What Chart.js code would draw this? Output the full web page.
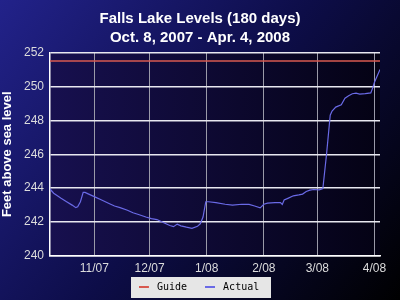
<!DOCTYPE html>
<html>
<head>
<meta charset="utf-8">
<script src="https://cdn.jsdelivr.net/npm/chart.js@4.4.0/dist/chart.umd.min.js"></script>
<style>
  html, body { margin: 0; padding: 0; background: #000; }
</style>
</head>
<body>
<canvas id="c" width="400" height="300"></canvas>
<script>
// Days since Oct. 8, 2007 and lake level (ft)
const days = [0, 2, 4, 6, 9, 12, 14, 15, 16.5, 18, 19, 21, 24, 28, 32, 35, 38, 42, 45, 48,
  52, 55, 58, 62, 65, 67, 69, 71, 74, 77, 80, 81.5, 83, 84.5, 86, 90, 95, 99, 104, 108,
  111, 114, 116, 118, 122, 125, 126, 127, 129, 132, 135, 137, 139, 141, 143, 146, 148, 150, 152, 153,
  155, 158, 160, 162, 164, 166, 168, 171, 174, 175, 176, 177, 179];
const levels = [243.95, 243.7, 243.55, 243.4, 243.2, 243.0, 242.85, 242.9, 243.2, 243.75, 243.75, 243.65, 243.5, 243.3, 243.1, 242.95, 242.85, 242.7, 242.55, 242.45,
  242.3, 242.2, 242.15, 241.95, 241.8, 241.73, 241.88, 241.78, 241.7, 241.63, 241.75, 241.9, 242.3, 243.2, 243.2, 243.15, 243.05, 243.0, 243.05, 243.04,
  242.95, 242.84, 243.05, 243.12, 243.15, 243.15, 243.04, 243.3, 243.4, 243.55, 243.6, 243.65, 243.8, 243.88, 243.92, 243.9, 243.98, 246.0, 248.3, 248.55,
  248.78, 248.92, 249.3, 249.45, 249.57, 249.6, 249.55, 249.57, 249.62, 249.9, 250.25, 250.5, 251.0];
const guideLevel = 251.5;
const guideDays = [0, 179];
const monthTickDays = [24, 54, 85, 116, 145, 176];
const monthTickLabels = ['11/07', '12/07', '1/08', '2/08', '3/08', '4/08'];
const titleLines = ['Falls Lake Levels (180 days)', 'Oct. 8, 2007 - Apr. 4, 2008'];

const guideColor = '#d85a50';
const actualColor = '#6a6ae6';

// short dash used as the legend marker
function legendMark(color) {
  const c = document.createElement('canvas');
  c.width = 15;
  c.height = 2;
  const g = c.getContext('2d');
  g.fillStyle = color;
  g.fillRect(0, 0, 10, 2);
  return c;
}

const backdrop = {
  id: 'backdrop',
  afterLayout(chart) {
    // let the month labels show below the (thin) x axis box
    chart.scales.x.bottom = chart.height;
  },
  beforeDraw(chart) {
    const { ctx, width, height, chartArea: a } = chart;
    ctx.save();
    let g = ctx.createLinearGradient(0, 0, width, height);
    g.addColorStop(0, '#22228a');
    g.addColorStop(0.5, '#0d0d48');
    g.addColorStop(1, '#000000');
    ctx.fillStyle = g;
    ctx.fillRect(0, 0, width, height);
    g = ctx.createLinearGradient(a.left, 0, a.right, 0);
    g.addColorStop(0, '#17104f');
    g.addColorStop(1, '#040214');
    ctx.fillStyle = g;
    ctx.fillRect(a.left, a.top, a.right - a.left, a.bottom - a.top);
    // light box behind legend
    const hb = chart.legend.legendHitBoxes;
    if (hb && hb.length) {
      const last = hb[hb.length - 1];
      const l = hb[0].left - 10;
      const r = last.left + last.width + 12;
      const t = hb[0].top - 5;
      const btm = hb[0].top + hb[0].height + 6;
      ctx.fillStyle = '#e6e6e6';
      ctx.fillRect(Math.round(l), Math.round(t), Math.round(r - l), Math.round(btm - t));
    }
    ctx.restore();
  }
};

const minorTicks = {
  id: 'minorTicks',
  afterDraw(chart) {
    const y = chart.scales.y, a = chart.chartArea, ctx = chart.ctx;
    ctx.save();
    ctx.strokeStyle = '#e8e8f0';
    ctx.lineWidth = 1;
    y.ticks.forEach(t => {
      if (t.value % 2) {
        const py = Math.round(y.getPixelForValue(t.value)) + 0.5;
        ctx.beginPath();
        ctx.moveTo(a.left, py);
        ctx.lineTo(a.left + 4, py);
        ctx.stroke();
      }
    });
    ctx.restore();
  }
};

new Chart(document.getElementById('c'), {
  type: 'line',
  data: {
    datasets: [
      {
        label: 'Guide',
        data: guideDays.map(d => ({ x: d, y: guideLevel })),
        borderColor: guideColor,
        backgroundColor: guideColor,
        borderWidth: 1.5,
        pointRadius: 0,
        pointStyle: legendMark(guideColor)
      },
      {
        label: 'Actual',
        data: days.map((d, i) => ({ x: d, y: levels[i] })),
        borderColor: actualColor,
        backgroundColor: actualColor,
        borderWidth: 1.2,
        pointRadius: 0,
        pointStyle: legendMark(actualColor),
        tension: 0
      }
    ]
  },
  options: {
    responsive: false,
    animation: false,
    layout: { padding: { left: 0, right: 0, top: 0, bottom: -2 } },
    plugins: {
      title: {
        display: true,
        text: titleLines,
        color: '#ffffff',
        font: { family: 'Liberation Sans', size: 15, weight: 'bold', lineHeight: 1.3 },
        padding: { top: 9, bottom: 4.5 }
      },
      legend: {
        position: 'bottom',
        labels: {
          color: '#000000',
          font: { family: 'DejaVu Sans Mono', size: 10 },
          usePointStyle: true,
          pointStyleWidth: 11.2,
          padding: 19.8
        }
      },
      tooltip: { enabled: false }
    },
    scales: {
      x: {
        type: 'linear',
        min: 0,
        max: 179,
        afterFit: s => { s.height = 6.2; },
        afterBuildTicks: s => { s.ticks = monthTickDays.map(v => ({ value: v })); },
        ticks: {
          color: '#dcdcdc',
          font: { family: 'Liberation Sans', size: 12 },
          padding: 5,
          maxRotation: 0,
          callback: (v, i) => monthTickLabels[i]
        },
        grid: { color: '#9a9aa8', lineWidth: 1, drawTicks: false },
        border: { color: '#ffffff', width: 1.5 }
      },
      y: {
        min: 240,
        max: 252,
        afterFit: s => { s.width = 50; },
        ticks: {
          stepSize: 1,
          color: '#dcdcdc',
          font: { family: 'Liberation Sans', size: 12 },
          padding: 6,
          callback: v => (v % 2 ? '' : v)
        },
        grid: {
          color: c => (c.tick && c.tick.value % 2 ? 'rgba(0,0,0,0)' : '#e8e8f0'),
          lineWidth: 1.5,
          drawTicks: false
        },
        border: { color: '#ffffff', width: 1.5 },
        title: {
          display: true,
          text: 'Feet above sea level',
          color: '#ffffff',
          font: { family: 'Liberation Sans', size: 13, weight: 'bold' },
          padding: { top: 0, bottom: 0 }
        }
      },
      // empty right-hand strip so the plot stops short of the edge
      yr: {
        position: 'right',
        afterFit: s => { s.width = 20; },
        ticks: { display: false },
        grid: { display: false },
        border: { display: false }
      }
    }
  },
  plugins: [backdrop, minorTicks]
});
</script>
</body>
</html>
